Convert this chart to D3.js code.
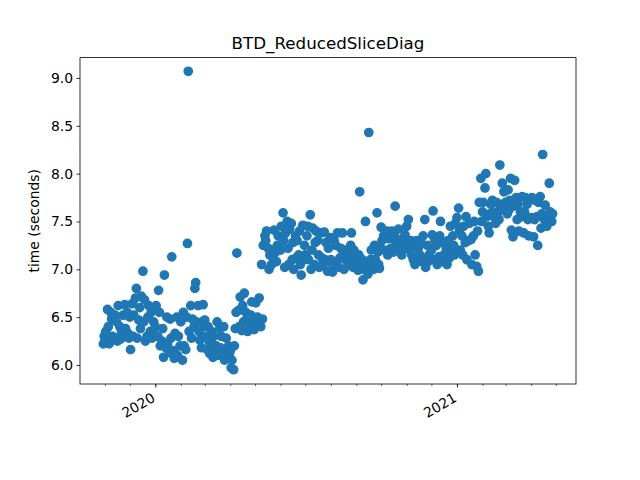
<!DOCTYPE html>
<html><head><meta charset="utf-8">
<script src="https://cdn.jsdelivr.net/npm/d3@7"></script>
<style>body{margin:0;background:#fff} svg text{font-family:"DejaVu Sans",sans-serif;fill:#000}</style>
</head><body><svg id="c" width="640" height="480"></svg>
<script>
const title = "BTD_ReducedSliceDiag";
const yLabel = "time (seconds)";
const yTicks = [6.0, 6.5, 7.0, 7.5, 8.0, 8.5, 9.0];
const yearTicks = ["2020-01-01", "2021-01-01"];

// daily timings, one array per month (first value = start date, null = no run that day)
const oct2019 = [6.22, 6.30];
const nov2019 = [6.25,6.35,null,6.58,6.40,6.22,null,6.55,6.48,6.30,6.50,null,6.52,6.28,6.45,6.25,6.62,null,6.40,6.27,6.35,null,6.52,6.30,6.63,6.38,null,6.55,6.33,6.28];
const dec2019 = [6.50,6.16,null,6.64,6.30,6.52,null,6.70,6.80,6.28,null,6.47,6.60,6.38,6.72,null,6.98,6.45,6.68,6.25,null,6.30,6.50,6.62,null,6.35,6.55,6.28,null,6.45,6.32];
const jan2020 = [6.40,6.62,null,6.30,6.78,6.55,6.20,null,6.25,6.38,6.08,6.94,null,6.18,6.50,6.22,null,6.13,6.48,6.28,7.13,null,6.15,6.07,6.33,null,6.50,6.10,6.30,null,6.20];
const feb2020 = [6.45,null,6.05,6.55,6.20,null,6.16,6.50,7.27,9.07,6.35,null,6.62,6.28,6.48,null,6.40,6.80,6.86,6.45,null,6.62,6.35,6.26,null,6.18,6.45,6.63,6.40];
const mar2020 = [6.47,6.30,null,6.16,6.40,6.25,6.12,null,6.35,6.22,6.08,6.30,null,6.15,6.20,6.45,6.10,null,6.38,6.18,6.30,6.12,null,6.40,6.05,6.15,6.28,null,6.08,6.20,6.12];
const apr2020 = [6.15,5.97,6.05,null,5.95,6.20,6.38,6.55,7.17,null,6.57,6.40,6.71,null,6.36,6.62,6.45,6.75,null,6.55,6.48,6.35,null,6.42,6.38,6.52,6.66,null,6.45,6.37];
const may2020 = [6.45,6.65,null,6.50,6.42,6.70,null,6.40,7.05,6.48,7.25,null,7.35,7.30,7.40,null,7.22,7.00,7.15,null,7.05,7.20,7.12,7.41,null,7.18,7.08,7.25,7.35,null,7.22];
const jun2020 = [7.20,7.45,null,7.59,7.30,7.02,7.38,null,7.50,7.22,7.05,7.42,null,7.48,7.10,7.28,7.00,null,7.35,7.12,7.30,null,7.15,7.40,7.05,6.94,null,7.46,7.10,7.25];
const jul2020 = [7.15,null,7.35,7.45,7.10,null,7.57,7.00,7.20,7.43,null,7.05,7.28,7.40,null,7.30,7.15,7.02,null,7.38,7.12,7.05,null,7.39,7.10,7.28,null,6.98,7.22,7.08,7.33];
const aug2020 = [7.10,null,6.97,7.05,7.30,null,7.25,7.08,7.38,null,7.02,7.12,7.22,null,7.38,7.15,7.00,null,7.10,7.20,7.08,null,7.15,7.05,7.25,7.38,null,7.02,7.20,null,7.10];
const sep2020 = [7.05,null,6.99,7.15,7.81,7.00,null,7.10,6.89,7.05,null,7.50,7.00,7.08,6.95,8.43,null,7.10,7.20,7.05,null,7.00,7.25,7.10,null,7.59,7.18,7.05,7.01,7.22];
const oct2020 = [7.44,7.30,null,7.35,7.20,7.38,null,7.40,7.15,7.32,null,7.36,7.22,7.40,null,7.18,7.35,7.66,7.28,null,7.30,7.42,7.20,null,7.25,7.15,7.32,null,7.22,7.36,7.28];
const nov2020 = [7.45,7.25,7.52,null,7.20,7.30,7.15,null,7.10,7.25,7.05,null,7.30,7.12,7.22,null,7.15,7.28,7.08,null,7.35,7.10,7.52,7.02,null,7.25,7.08,7.15,null,7.10];
const dec2020 = [7.20,7.36,7.61,null,7.31,7.10,7.25,7.05,null,7.13,7.35,7.50,null,7.08,7.28,7.15,null,7.10,7.22,7.05,7.30,null,7.12,7.45,7.20,null,7.35,7.25,7.15,7.48,null];
const jan2021 = [7.54,null,7.64,7.41,7.20,null,7.35,7.15,7.45,null,7.28,7.55,7.10,null,7.30,7.48,null,7.31,7.05,null,7.35,7.50,7.15,null,7.03,7.40,6.98,7.70,null,7.95,7.50];
const feb2021 = [7.60,7.70,null,7.85,8.00,7.55,null,7.45,7.38,7.58,7.68,null,7.72,7.60,7.55,null,7.48,7.70,7.58,null,7.52,8.09,7.65,7.68,7.90,null,7.81,7.62];
const mar2021 = [7.70,null,7.58,7.83,7.62,7.72,7.95,7.41,null,7.34,7.66,7.93,null,7.75,7.52,7.68,7.40,null,7.60,7.55,7.76,null,7.38,7.60,7.75,null,7.68,7.52,7.35,7.72,null];
const apr2021 = [7.54,7.75,null,7.34,7.52,7.72,null,7.55,7.25,7.70,null,7.76,7.43,7.58,8.20,null,7.52,7.67,7.55,7.45,null,7.55,7.90,7.60,null,7.50,7.58];

const monthStarts = ["2019-10-30","2019-11-01","2019-12-01","2020-01-01","2020-02-01","2020-03-01","2020-04-01","2020-05-01","2020-06-01","2020-07-01","2020-08-01","2020-09-01","2020-10-01","2020-11-01","2020-12-01","2021-01-01","2021-02-01","2021-03-01","2021-04-01"];
const monthValues = [oct2019,nov2019,dec2019,jan2020,feb2020,mar2020,apr2020,may2020,jun2020,jul2020,aug2020,sep2020,oct2020,nov2020,dec2020,jan2021,feb2021,mar2021,apr2021];

const points = [];
monthStarts.forEach((s, k) => {
  const start = new Date(s + "T00:00:00Z");
  monthValues[k].forEach((v, i) => { if (v !== null) points.push({date: d3.utcDay.offset(start, i), value: v}); });
});

const L = 80, R = 576, T = 57.6, B = 384;
const svg = d3.select("#c");
const x = d3.scaleUtc()
  .domain([new Date(Date.UTC(2019, 9, 1, 15, 36)), new Date(Date.UTC(2021, 4, 25, 10))])
  .range([L, R]);
const y = d3.scaleLinear().domain([5.801, 9.213]).range([B, T]);

svg.append("g").selectAll("circle").data(points).join("circle")
  .attr("cx", d => x(d.date)).attr("cy", d => y(d.value))
  .attr("r", 4.17).attr("fill", "#1f77b4")
  .attr("stroke", "#1f77b4").attr("stroke-width", 1.39);

// y axis
const ya = svg.append("g").attr("transform", `translate(${L},0)`)
  .call(d3.axisLeft(y).tickValues(yTicks).tickFormat(d3.format(".1f")).tickSize(3.5).tickPadding(3.5));
ya.select(".domain").remove();
ya.selectAll("line").attr("stroke", "#000").attr("stroke-width", 0.8);
ya.selectAll("text").attr("font-size", 13.9).attr("font-family", "DejaVu Sans").attr("fill", "#000");

// x minor ticks (months)
const xm = svg.append("g").attr("transform", `translate(0,${B})`)
  .call(d3.axisBottom(x).ticks(d3.utcMonth.every(1)).tickSize(2).tickFormat(""));
xm.select(".domain").remove();
xm.selectAll("line").attr("stroke", "#000").attr("stroke-width", 0.6);

// x major ticks (years)
const xa = svg.append("g").attr("transform", `translate(0,${B})`)
  .call(d3.axisBottom(x).tickValues(yearTicks.map(s => new Date(s + "T00:00:00Z"))).tickFormat(d3.utcFormat("%Y")).tickSize(3.5));
xa.select(".domain").remove();
xa.selectAll("line").attr("stroke", "#000").attr("stroke-width", 0.8);
xa.selectAll("text").attr("font-size", 13.9).attr("font-family", "DejaVu Sans").attr("fill", "#000")
  .attr("x", 0).attr("y", 0).attr("dy", "0.76em").attr("text-anchor", "end")
  .attr("transform", "translate(-5,7.5) rotate(-30)");

// frame
svg.append("rect").attr("x", L).attr("y", T).attr("width", R - L).attr("height", B - T)
  .attr("fill", "none").attr("stroke", "#000").attr("stroke-width", 0.8);

svg.append("text").attr("x", (L + R) / 2).attr("y", T - 8.3).attr("text-anchor", "middle")
  .attr("font-size", 16.7).text(title);
svg.append("text").attr("transform", `translate(39,${(T + B) / 2}) rotate(-90)`)
  .attr("text-anchor", "middle").attr("font-size", 13.9).text(yLabel);
</script></body></html>
